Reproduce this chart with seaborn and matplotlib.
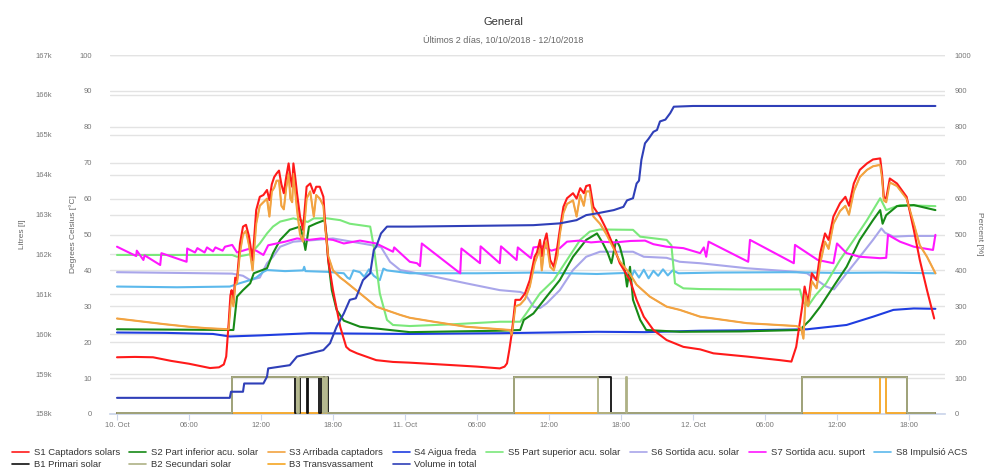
import matplotlib
matplotlib.use("Agg")
import matplotlib.pyplot as plt
import matplotlib.transforms as mtransforms
from matplotlib.lines import Line2D
from matplotlib.ticker import FuncFormatter
import seaborn as sns

# ---------------- data (hours since 10 Oct 00:00) ----------------
x_tick_hours = [0, 6, 12, 18, 24, 30, 36, 42, 48, 54, 60, 66]
x_tick_labels = ["10. Oct", "06:00", "12:00", "18:00", "11. Oct", "06:00",
                 "12:00", "18:00", "12. Oct", "06:00", "12:00", "18:00"]

s1_h = [0, 1.5, 3.0, 4.5, 6.0, 7.0, 7.75, 8.5, 8.9, 9.1, 9.3, 9.45, 9.55, 9.7, 9.85, 10.0, 10.25, 10.5, 10.75, 11.0,
        11.3, 11.6, 11.9, 12.2, 12.5, 12.7, 12.9, 13.1, 13.3, 13.5, 13.7, 13.9, 14.1, 14.3, 14.45, 14.6, 14.7, 14.85,
        15.0, 15.25, 15.5, 15.8, 16.1, 16.4, 16.6, 16.9, 17.2, 17.35, 17.6, 18.0, 18.6, 19.1, 19.4, 20.0, 21.6, 23.0,
        24.4, 26.0, 28.0, 30.0, 31.9, 32.3, 32.5, 32.7, 32.9, 33.2, 33.6, 34.0, 34.4, 34.8, 35.0, 35.25, 35.4, 35.6,
        35.8, 36.1, 36.4, 36.7, 36.9, 37.2, 37.5, 38.0, 38.3, 38.6, 38.9, 39.1, 39.4, 39.7, 40.25, 40.8, 41.4, 41.9,
        42.75, 43.3, 43.9, 44.7, 45.8, 47.2, 48.6, 49.7, 52.5, 55.25, 56.2, 56.6, 57.1, 57.3, 57.6, 57.9, 58.3, 58.6,
        59.0, 59.3, 59.7, 60.25, 60.7, 61.0, 61.4, 61.9, 62.5, 63.0, 63.6, 63.75, 63.9, 64.1, 64.4, 65.0, 65.8, 66.4,
        66.9, 67.5, 68.1]
s1_v = [15.8, 15.9, 15.8, 14.8, 14.0, 13.3, 12.8, 13.0, 13.8, 16, 25, 33, 34.5, 31, 38, 37.3, 47.5, 52.2, 52.7, 49.5,
        42.9, 56.8, 60.5, 61, 62.4, 59.6, 64, 66, 67, 67.8, 64, 61.5, 66, 69.8, 66, 63.3, 69.8, 66,
        61.5, 55, 51.3, 63.3, 64.2, 61.5, 63.3, 63.3, 60.5, 53, 42.9, 34.5, 24.3, 18.7, 17.8, 16.9, 15.0, 14.5,
        14.3, 14.0, 13.6, 13.2, 12.7, 13.2, 14.1, 18, 22.5, 31.8, 31.8, 33.6, 37.3, 43.8, 45, 48.5, 44, 48,
        50.3, 42.9, 41, 46.7, 51.3, 57.7, 60.1, 61.5, 60, 62.9, 61.5, 63.5, 63.8, 57.7, 55, 51.3, 46.6, 42,
        37.3, 31.8, 27.1, 23.4, 20.6, 18.7, 18.0, 16.9, 16.0, 15.0, 14.6, 18.7, 29.9, 35.5, 31, 39.2, 37.3, 44.8,
        50.3, 48.5, 55, 58.7, 60.5, 58, 64.2, 68, 69.8, 70.9, 71.2, 67, 60.5, 60, 65.6, 64.2, 60.5, 51.3,
        42.9, 34.5, 26.6]

s2_h = [0, 9.4, 9.7, 10.0, 10.5, 11.1, 11.4, 12.5, 13.0, 13.6, 14.4, 15.25, 15.5, 15.7, 16.0, 16.6, 17.3, 17.45,
        17.6, 17.9, 18.3, 18.9, 20.25, 24.4, 28, 32, 33.6, 33.9, 34.7, 35.8, 36.9, 38.0, 39.1, 40.0, 40.5, 40.9,
        41.2, 41.6, 41.9, 42.2, 42.5, 42.75, 43.0, 43.6, 44.1, 46.9, 52, 56.9, 57.75, 58.6, 59.7, 60.8, 61.9, 63.0,
        63.6, 63.8, 64.1, 65.0, 66.4, 68.2]
s2_v = [23.6, 23.4, 23.4, 32.7, 34.5, 36.4, 39.2, 40.6, 44.8, 48.5, 51.3, 52.2, 49.4, 45.7, 52.2, 53.1, 54, 50,
        42.9, 34.5, 29, 26, 24.3, 22.8, 23, 23.2, 23.4, 26.2, 28, 32.7, 37.3, 43.8, 48.5, 50.3, 47.5, 44.8,
        42, 48.5, 46.6, 42.9, 35.5, 41, 31.8, 26.2, 23.4, 22.9, 23, 23.4, 26.2, 29.9, 35.5, 41, 48.5, 54,
        56.8, 53, 55.4, 57.9, 58.2, 56.8]

s3_h = [0, 2, 4, 6, 7.5, 9.3, 9.45, 9.55, 9.7, 9.85, 10.0, 10.25, 10.5, 10.75, 11.0, 11.3, 11.6, 11.9, 12.2, 12.5,
        12.7, 12.9, 13.1, 13.3, 13.5, 13.7, 13.9, 14.1, 14.3, 14.45, 14.6, 14.7, 14.85, 15.0, 15.25, 15.5, 15.8,
        16.1, 16.4, 16.6, 16.9, 17.2, 17.35, 17.6, 18.0, 18.6, 19.0, 20.25, 21.6, 23.6, 24.4, 26.4, 29.1, 32.75,
        32.9, 33.2, 33.6, 34.0, 34.4, 34.8, 35.25, 35.4, 35.6, 35.8, 36.1, 36.4, 36.7, 36.9, 37.2, 37.5, 38.0,
        38.3, 38.6, 38.9, 39.1, 39.4, 39.7, 40.25, 40.8, 41.4, 41.9, 42.75, 43.3, 44.4, 45.8, 46.9, 48.6, 49.7,
        52.5, 56.6, 57.0, 57.2, 57.4, 57.6, 57.9, 58.3, 58.6, 59.0, 59.3, 59.7, 60.25, 60.7, 61.0, 61.4, 61.9,
        62.5, 63.0, 63.6, 63.75, 63.9, 64.1, 64.4, 65.0, 65.8, 66.4, 66.9, 67.5, 68.2]
s3_v = [26.6, 25.8, 25, 24.3, 23.9, 23.6, 30, 33, 30, 36, 36.5, 45, 50, 51, 47, 40, 53, 58, 59, 60,
        55, 62, 63, 65, 65, 58, 57, 63, 67, 60, 59, 67, 62, 57, 50, 48, 60,
        62, 55, 61, 60, 58, 52, 44, 40, 38, 37, 33.6, 29.9, 27.6, 26.8, 25.7, 24.3, 23.4,
        22, 30, 30.5, 32, 35.5, 42, 46, 40, 46, 48, 41, 40, 44, 50, 56, 58.5, 59.5,
        55, 61, 58, 62, 62, 55, 53, 50, 46, 42.5, 39, 36, 32.7, 29.9, 29, 27.1, 26.6,
        25.3, 24.5, 24, 21, 33, 30, 37, 35, 42, 48, 46, 53, 56.5, 58, 55.5, 62, 66,
        68, 69, 69.4, 66, 59.5, 59, 64.5, 63.5, 60, 53, 47, 43.8, 39.2]

s4_h = [0, 4, 8, 9.4, 12, 16.1, 20, 24.4, 28, 31.9, 36, 40, 44, 48.6, 52, 57.5, 60.8, 63.0, 64.7, 66.4, 68.2]
s4_v = [22.7, 22.6, 22.3, 21.6, 21.9, 22.5, 22.4, 22.3, 22.4, 22.5, 22.7, 22.9, 22.8, 23.2, 23.3, 23.6, 24.8,
        27.1, 29.0, 29.4, 29.3]

s5_h = [0, 9.6, 10.0, 11.1, 11.9, 12.5, 13.0, 13.6, 14.7, 15.25, 15.9, 16.4, 17.5, 18.6, 19.4, 21.1, 21.4, 21.9,
        22.5, 23.0, 24.4, 28, 31.9, 33.6, 34.1, 35.25, 36.4, 37.5, 38.6, 39.4, 40.25, 43.0, 43.6, 45.8, 46.2, 46.5,
        47.2, 48.6, 52, 56.9, 57.2, 57.6, 58.2, 59.1, 60.25, 61.4, 62.5, 63.6, 64.1, 65.25, 68.2]
s5_v = [44.3, 44.3, 43.8, 44.5, 47.5, 50.3, 52.2, 53.6, 54.5, 54, 53.5, 54.5, 54.5, 54.0, 53, 52.2, 46.6, 33.6,
        26.2, 24.8, 24.5, 25, 25.7, 25.7, 28, 33.6, 37.3, 42.9, 48.5, 50.8, 51.4, 51.3, 49.4, 48.5, 47, 36.4,
        35, 34.8, 34.7, 34.7, 31, 30.1, 33, 36.4, 42.9, 48.5, 54, 60.1, 56.8, 58.2, 57.9]

s6_h = [0, 5, 9.6, 10.5, 11.1, 11.9, 12.5, 13.0, 13.6, 14.7, 16.6, 18, 21.1, 22.0, 22.75, 23.6, 24.4, 26.4, 29.1,
        31.9, 33.6, 34.0, 34.7, 35.25, 35.8, 36.9, 38.0, 39.1, 40.25, 43.0, 43.9, 45.8, 46.9, 48.6, 52.5, 56.6,
        57.5, 59.1, 59.75, 60.8, 61.9, 63.0, 63.7, 64.0, 64.7, 66, 68.2]
s6_v = [39.5, 39.3, 39.1, 38.5, 37.3, 38, 42, 43.8, 46.6, 48, 48.5, 48.9, 47.1, 46.5, 42.4, 40.1, 39.6, 38.3, 36.4,
        34.5, 34, 33.5, 29.9, 29.5, 30.8, 34.5, 40.1, 43.8, 45.2, 45.2, 43.8, 43.5, 42.4, 42, 40.6, 39.6,
        39.2, 35.5, 34.7, 39.2, 43.8, 48.5, 51.7, 50.5, 49.4, 49.6, 49.6]

s7_h = [0, 1.1, 1.6, 1.65, 2.2, 2.3, 3.6, 3.7, 5.8, 5.85, 6.5, 6.7, 7.3, 7.5, 8.0, 8.2, 8.8, 9.0, 9.6, 10.0, 10.5,
        11.0, 11.6, 12.2, 12.6, 13.3, 14.0, 15.0, 16.0, 17.0, 18.0, 18.9, 20.25, 21.6, 23.0, 23.1, 24.4, 25.0,
        25.25, 25.4, 28.6, 28.7, 30.25, 30.3, 31.9, 32.0, 33.3, 33.4, 34.5, 34.7, 35.5, 36.2, 36.9, 37.5, 38.5,
        39.5, 40.25, 41.5, 42.8, 44, 44.7, 45.8, 47.2, 48.6, 48.9, 49.1, 49.3, 52.6, 52.75, 56.4, 56.5, 58.4,
        59.7, 60.0, 60.8, 61.9, 63.6, 64.1, 64.25, 65.25, 66.4, 68.0, 68.2]
s7_v = [46.6, 44.8, 44.0, 45.5, 42.9, 44.2, 41.5, 44.8, 42.4, 46.1, 45.0, 46.2, 45.0, 46.4, 45.3, 46.4, 45.5, 46.6,
        47.1, 45, 45.5, 46, 45.5, 44.3, 47, 47.5, 48, 48.9, 48.5, 48.9, 48.5, 47.5, 48.3, 47.5, 45.2, 46.4, 42.4,
        42.0, 41.2, 47.5, 39.2, 46.1, 42, 46.7, 42, 46.7, 42.9, 46.4, 43.4, 46.4, 46.7, 45.5, 46.2, 48, 48.3,
        47.8, 48, 47.8, 48.2, 48.3, 47.3, 46.6, 46.2, 44.8, 46.4, 43.8, 48, 42.4, 48.5, 42, 47.1, 42.9,
        42, 47.5, 44.8, 43.8, 43.4, 43.5, 49.9, 48, 46.6, 45.7, 49.9]

s8_h = [0, 5, 9.4, 10.2, 11.1, 11.6, 12.2, 12.5, 14, 15.5, 15.6, 15.7, 17.5, 18.9, 19.2, 19.4, 19.7, 20.25, 20.6,
        21.0, 21.4, 21.9, 22.2, 22.5, 24.4, 30, 35, 40, 42.5, 42.8, 43.1, 43.5, 43.9, 44.3, 44.7, 45.1, 45.5,
        45.9, 46.3, 46.8, 50, 56, 60, 64, 68.2]
s8_v = [35.5, 35.3, 35.5, 36.4, 37.3, 38, 39.6, 40.1, 39.8, 40.0, 41, 39.8, 39.6, 39.2, 38, 37.6, 40, 39.5, 38.2,
        40.3, 38.5, 37.3, 40.5, 40.0, 39.2, 39.2, 39.4, 39.0, 39.3, 37.5, 40.0, 38.0, 40.2, 37.8, 39.9, 38.5, 40.3,
        38.6, 40.0, 39.2, 39.4, 39.5, 39.3, 39.4, 39.2]

b1_h = [0, 9.6, 9.6, 14.8, 14.8, 15.25, 15.25, 15.8, 15.8, 15.9, 15.9, 16.8, 16.8, 17.0, 17.0, 17.6, 17.6, 33.1,
        33.1, 41.2, 41.2, 57.1, 57.1, 65.8, 65.8, 68.2]
b1_v = [0, 0, 100, 100, 0, 0, 100, 100, 0, 0, 100, 100, 0, 0, 100, 100, 0, 0,
        100, 100, 0, 0, 100, 100, 0, 0]
b2_h = [0, 9.6, 9.6, 15.0, 15.0, 15.2, 15.2, 17.2, 17.2, 17.3, 17.3, 17.5, 17.5, 33.1, 33.1, 40.1, 40.1, 42.4,
        42.4, 42.5, 42.5, 57.1, 57.1, 65.8, 65.8, 68.2]
b2_v = [0, 0, 100, 100, 0, 0, 100, 100, 0, 0, 100, 100, 0, 0, 100, 100, 0, 0,
        100, 100, 0, 0, 100, 100, 0, 0]
b3_h = [0, 63.6, 63.6, 64.1, 64.1, 68.2]
b3_v = [0, 0, 100, 100, 0, 0]

vol_h = [0, 9.4, 9.5, 10.5, 10.6, 12.2, 12.5, 12.6, 14.4, 15.0, 16.1, 17.2, 17.75, 18.3, 18.9, 19.4, 19.9, 20.5,
         21.1, 21.4, 21.6, 22.0, 22.5, 24.4, 34.7, 36.9, 38.3, 39.1, 40.0, 41.4, 42.2, 42.5, 43.0, 43.3, 43.5,
         43.7, 44.0, 44.3, 44.7, 45.0, 45.25, 45.7, 46.1, 46.4, 48, 68.2]
vol_v = [158405, 158405, 158558, 158558, 158765, 158765, 158936, 159143, 159224, 159440, 159521, 159602, 159773,
         160187, 160520, 160862, 160900, 161357, 161528, 162113, 162194, 162527, 162698, 162698, 162734, 162779,
         162860, 162986, 163030, 163112, 163193, 163355, 163409, 163778, 163850, 164372, 164786, 164900, 165074,
         165120, 165335, 165380, 165542, 165704, 165722, 165722]

# ---------------- style ----------------
sns.set_theme(style="white")
plt.rcParams['font.family'] = ['Liberation Sans', 'DejaVu Sans']

W, H = 986, 471
L, R, T, B = 110, 945, 55, 414
fig = plt.figure(figsize=(W / 100, H / 100), dpi=100)
ax = fig.add_axes([L / W, 1 - B / H, (R - L) / W, (B - T) / H])
ax_pct = ax.twinx()
ax_lit = ax.twinx()

C = dict(s1="#ff1a1a", s2="#178a17", s3="#f2a341", s4="#1f3de0", s5="#7be87b", s6="#a9a6ea",
         s7="#ff17ff", s8="#5cb9ec", b1="#111111", b2="#aeb185", b3="#f5a623", vol="#2f3fb8")
LW = 1.5


def draw(axis, h, v, color, z=2, lw=LW):
    sns.lineplot(x=h, y=v, ax=axis, color=color, lw=lw, estimator=None, sort=False,
                 legend=False, zorder=z)


draw(ax, s6_h, s6_v, C["s6"])
draw(ax, s8_h, s8_v, C["s8"])
draw(ax, s5_h, s5_v, C["s5"])
draw(ax, s4_h, s4_v, C["s4"])
draw(ax, s2_h, s2_v, C["s2"])
draw(ax, s7_h, s7_v, C["s7"])
draw(ax, s3_h, s3_v, C["s3"])
draw(ax, s1_h, s1_v, C["s1"])
draw(ax, s3_h, s3_v, C["s3"], lw=1.0)

draw(ax_pct, b3_h, b3_v, C["b3"], z=2.0, lw=1.3)
draw(ax_pct, b1_h, b1_v, C["b1"], z=2.1, lw=1.3)
draw(ax_pct, b2_h, b2_v, C["b2"], z=2.2, lw=1.3)
draw(ax_lit, vol_h, vol_v, C["vol"])

xmin, xmax = (L - 117) / 12.0, (R - 117) / 12.0
for a in (ax, ax_pct, ax_lit):
    a.set_xlim(xmin, xmax)
    a.set_xlabel("")
    a.set_ylabel("")
    for s in a.spines.values():
        s.set_visible(False)

ax.set_ylim(0, 100)
ax_pct.set_ylim(-4, 1000)
ax_lit.set_ylim(158000, 167000)

grid_c = "#e3e3e3"
ax.set_yticks(range(0, 101, 10))
ax.yaxis.grid(True, color=grid_c, lw=1.0, zorder=0)
ax.set_axisbelow(True)
lit_ticks = list(range(158000, 167001, 1000))
trans = mtransforms.blended_transform_factory(ax.transAxes, ax_lit.transData)
for v in lit_ticks:
    ax.add_line(Line2D([0, 1], [v, v], transform=trans, color=grid_c, lw=1.0, zorder=0.5))

tick_c = "#777777"
ax.tick_params(axis='y', length=0, pad=13, labelsize=5.5, labelcolor=tick_c)
ax_lit.yaxis.tick_left()
ax_lit.set_yticks(lit_ticks)
ax_lit.yaxis.set_major_formatter(FuncFormatter(lambda v, p: f"{int(round(v / 1000))}k"))
ax_lit.tick_params(axis='y', length=0, pad=42, labelsize=5.5, labelcolor=tick_c)
# right axis: tick labels follow the degree grid (0..1000 over the full height)
ax_pct_lab = ax.secondary_yaxis('right', functions=(lambda d: d * 10, lambda p: p / 10))
ax_pct_lab.set_yticks(list(range(0, 1001, 100)))
ax_pct_lab.tick_params(axis='y', length=0, pad=7, labelsize=5.5, labelcolor=tick_c)
for s in ax_pct_lab.spines.values():
    s.set_visible(False)
ax_pct.set_yticks([])

ax.spines['bottom'].set_visible(True)
ax.spines['bottom'].set_color("#ccd6eb")
ax.set_xticks(x_tick_hours)
ax.set_xticklabels(x_tick_labels)
ax.tick_params(axis='x', length=4, width=0.8, color="#ccd6eb", pad=1.5, labelsize=5.5,
               labelcolor=tick_c, bottom=True)
for a in (ax_pct, ax_lit):
    a.tick_params(axis='x', bottom=False, labelbottom=False)

# titles and axis titles
fig.text(503 / W, 1 - 22 / H, "General", ha="center", va="center", fontsize=8, color="#333333")
fig.text(503 / W, 1 - 40 / H, "Últimos 2 días, 10/10/2018 - 12/10/2018", ha="center", va="center",
         fontsize=6.5, color="#666666")
fig.text(22 / W, 1 - 234 / H, "Litres [l]", rotation=90, ha="center", va="center", fontsize=6,
         color="#666666")
fig.text(73 / W, 1 - 234 / H, "Degrees Celsius [°C]", rotation=90, ha="center", va="center",
         fontsize=6, color="#666666")
fig.text(980 / W, 1 - 234 / H, "Percent [%]", rotation=270, ha="center", va="center", fontsize=6,
         color="#666666")

# legend (row-major order through column-major filling)
labels = {
    "s1": "S1 Captadors solars", "s2": "S2 Part inferior acu. solar", "s3": "S3 Arribada captadors",
    "s4": "S4 Aigua freda", "s5": "S5 Part superior acu. solar", "s6": "S6 Sortida acu. solar",
    "s7": "S7 Sortida acu. suport", "s8": "S8 Impulsió ACS", "b1": "B1 Primari solar",
    "b2": "B2 Secundari solar", "b3": "B3 Transvassament", "vol": "Volume in total"}
order = ["s1", "b1", "s2", "b2", "s3", "b3", "s4", "vol", "s5", "s6", "s7", "s8"]
handles = [Line2D([], [], color=C[k], lw=1.2) for k in order]
fig.legend(handles, [labels[k] for k in order], ncol=8, loc="upper left",
           bbox_to_anchor=(12 / W, 1 - 448 / H), frameon=False, fontsize=6.8,
           handlelength=1.8, handletextpad=0.5, columnspacing=1.0, labelspacing=0.3,
           borderaxespad=0, borderpad=0, labelcolor="#333333")

fig.savefig("out.png", dpi=100)
